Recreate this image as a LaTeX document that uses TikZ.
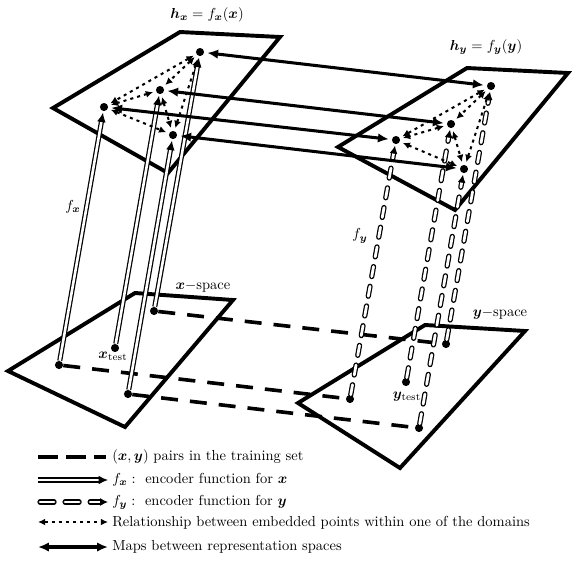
\documentclass[tikz,border=0pt]{standalone}
\usepackage{amsmath}
\usepackage{bm}
\usetikzlibrary{arrows.meta}
\tikzset{
  plane/.style={line width=2.7pt},
  dotpt/.style={circle, fill=black, inner sep=0pt, minimum size=5.6pt},
  pairline/.style={line width=2.5pt, dash pattern=on 11.7pt off 8.3pt},
  fxarrow/.style={draw=black, double=white, line width=0.85pt, double distance=1.8pt, -{Latex[length=6.5pt,width=6pt]}, shorten >=1pt},
  fyarrow/.style={draw=black, double=white, line width=0.85pt, double distance=1.9pt, line cap=round, dash pattern=on 7pt off 6.8pt, -{Latex[length=5.5pt,width=5.5pt]}, shorten >=1pt},
  relarrow/.style={line width=1.4pt, dash pattern=on 2.1pt off 2.8pt, {Latex[length=5pt,width=4.8pt]}-{Latex[length=5pt,width=4.8pt]}, shorten <=2pt, shorten >=2pt},
  maparrow/.style={line width=2.1pt, {Latex[length=7.5pt,width=6.5pt]}-{Latex[length=7.5pt,width=6.5pt]}, shorten <=2pt, shorten >=2pt},
  lbl/.style={inner sep=0pt},
  legtext/.style={anchor=west, inner sep=0pt},
}
\begin{document}
\begin{tikzpicture}[x=0.69pt,y=-0.69pt]
\useasboundingbox (0,0) rectangle (578,572);

% planes
\draw[plane] (180,32) -- (280,37) -- (168,173) -- (53,108) -- cycle;
\draw[plane] (467,68) -- (568,73) -- (455,210) -- (338,147) -- cycle;
\draw[plane] (135,293) -- (233,300) -- (125,427) -- (8,371) -- cycle;
\draw[plane] (425,325) -- (525,331) -- (400,468) -- (298,403) -- cycle;

% points
\node[dotpt] (p1) at (200,52) {};
\node[dotpt] (p2) at (160,90) {};
\node[dotpt] (p3) at (104,107) {};
\node[dotpt] (p4) at (173,135) {};
\node[dotpt] (q1) at (491,86) {};
\node[dotpt] (q2) at (451,124) {};
\node[dotpt] (q3) at (396,140) {};
\node[dotpt] (q4) at (464,169) {};
\node[dotpt] (a1) at (154,311) {};
\node[dotpt] (at) at (115,348) {};
\node[dotpt] (a2) at (59,365) {};
\node[dotpt] (a3) at (128,394) {};
\node[dotpt] (b1) at (446,344) {};
\node[dotpt] (bt) at (406,382) {};
\node[dotpt] (b2) at (350,399) {};
\node[dotpt] (b3) at (419,428) {};

% training pairs
\draw[pairline] (a1) -- (b1);
\draw[pairline] (a2) -- (b2);
\draw[pairline] (a3) -- (b3);

% encoders
\draw[fxarrow] (a2) -- (p3);
\draw[fxarrow] (at) -- (p2);
\draw[fxarrow] (a3) -- (p4);
\draw[fxarrow] (a1) -- (p1);
\draw[fyarrow] (b2) -- (q3);
\draw[fyarrow] (bt) -- (q2);
\draw[fyarrow] (b3) -- (q4);
\draw[fyarrow] (b1) -- (q1);

% relationships within domains
\draw[relarrow] (p1) -- (p2);
\draw[relarrow] (p1) -- (p3);
\draw[relarrow] (p1) -- (p4);
\draw[relarrow] (p2) -- (p3);
\draw[relarrow] (p2) -- (p4);
\draw[relarrow] (p3) -- (p4);
\draw[relarrow] (q1) -- (q2);
\draw[relarrow] (q1) -- (q3);
\draw[relarrow] (q1) -- (q4);
\draw[relarrow] (q2) -- (q3);
\draw[relarrow] (q2) -- (q4);
\draw[relarrow] (q3) -- (q4);

% maps between representation spaces
\draw[maparrow] (p1) -- (q1);
\draw[maparrow] (p2) -- (q2);
\draw[maparrow] (p3) -- (q3);
\draw[maparrow] (p4) -- (q4);

% labels
\node[lbl] (hx) at (207,15) {$\bm{h}_{\bm{x}} = f_{\bm{x}}(\bm{x})$};
\node[lbl] (hy) at (486,47) {$\bm{h}_{\bm{y}} = f_{\bm{y}}(\bm{y})$};
\node[lbl] (xsp) at (203,287) {$\bm{x}-$space};
\node[lbl] (ysp) at (500,314) {$\bm{y}-$space};
\node[lbl] (xt) at (113,356) {$\bm{x}_{\mathrm{test}}$};
\node[lbl] (yt) at (407,397) {$\bm{y}_{\mathrm{test}}$};
\node[lbl] (fx) at (73,207) {$f_{\bm{x}}$};
\node[lbl] (fy) at (360,236) {$f_{\bm{y}}$};

% legend
\coordinate (l1a) at (38,457); \coordinate (l1b) at (106,457);
\coordinate (l2a) at (38,480); \coordinate (l2b) at (108,480);
\coordinate (l3a) at (40,502); \coordinate (l3b) at (108,502);
\coordinate (l4a) at (38,522); \coordinate (l4b) at (108,522);
\coordinate (l5a) at (38,547); \coordinate (l5b) at (108,547);
\draw[pairline, dash pattern=on 13.8pt off 5.5pt] (l1a) -- (l1b);
\draw[fxarrow, shorten >=0pt] (l2a) -- (l2b);
\draw[fyarrow, dash pattern=on 9.7pt off 7.6pt, shorten >=0pt] (l3a) -- (l3b);
\draw[relarrow, shorten <=0pt, shorten >=0pt] (l4a) -- (l4b);
\draw[maparrow, shorten <=0pt, shorten >=0pt] (l5a) -- (l5b);
\node[legtext] (t1) at (112,457) {$(\bm{x},\bm{y})$ pairs in the training set};
\node[legtext] (t2) at (112,480) {$f_{\bm{x}}:$\ \ encoder function for $\bm{x}$};
\node[legtext] (t3) at (112,502) {$f_{\bm{y}}:$\ \ encoder function for $\bm{y}$};
\node[legtext] (t4) at (112,523) {Relationship between embedded points within one of the domains};
\node[legtext] (t5) at (112,547) {Maps between representation spaces};
\end{tikzpicture}
\end{document}
